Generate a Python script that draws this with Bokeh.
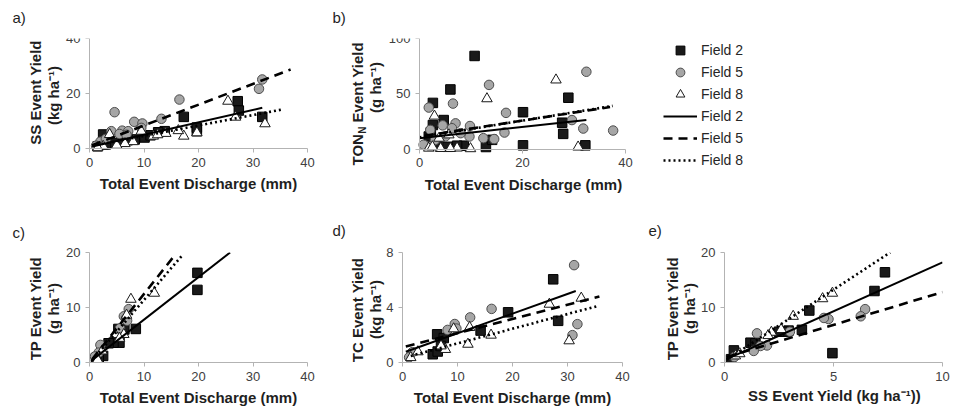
import math
from bokeh.plotting import figure
from bokeh.layouts import row, column
from bokeh.models import Range1d, FixedTicker, Label, Legend, LegendItem
from bokeh.embed import file_html
from bokeh.resources import INLINE

# ---------------- data ----------------
FIELDS = ["Field 2", "Field 5", "Field 8"]

# a) SS event yield (kg/ha) vs total event discharge (mm)
A_X_TICKS = [0, 10, 20, 30, 40]
A_Y_TICKS = [0, 20, 40]
A_F2 = [(2.5, 5.1), (17.3, 11.5), (27.2, 17.2), (27.4, 13.8), (31.7, 11.5), (19.7, 6.3),
        (19.7, 7.6), (13.8, 6.3), (12.6, 5.9), (10.1, 4.0), (8.3, 3.3), (6.0, 2.5),
        (4.5, 2.0), (3.0, 1.5), (1.5, 0.8), (7.0, 3.0), (11.2, 4.8)]
A_F5 = [(4.6, 13.2), (16.5, 17.8), (31.7, 25.1), (31.1, 21.7), (13.2, 10.8), (8.2, 9.7),
        (9.7, 9.1), (4.0, 6.3), (6.0, 6.5), (7.1, 6.3), (5.5, 5.3), (2.0, 2.5),
        (3.0, 3.5), (1.2, 1.0), (6.8, 5.0), (9.5, 7.5)]
A_F8 = [(25.4, 17.2), (32.2, 9.0), (17.3, 4.5), (19.7, 5.7), (26.8, 11.4), (16.3, 6.5),
        (9.5, 6.3), (3.7, 5.1), (11.7, 4.5), (8.0, 2.5), (6.5, 1.8), (5.0, 1.2),
        (2.5, 0.8), (1.5, 0.3), (14.0, 5.5), (12.5, 5.0)]
A_FIT_F2 = [(0.5, 0.7), (31.7, 14.8)]
A_FIT_F5 = [(0.5, 1.2), (36.9, 28.7)]
A_FIT_F8 = [(0.5, 1.0), (35.4, 14.2)]

# b) TON_N event yield (g/ha) vs total event discharge (mm)
B_X_TICKS = [0, 20, 40]
B_Y_TICKS = [0, 50, 100]
B_F2 = [(10.7, 84.2), (6.0, 53.9), (2.6, 41.7), (20.1, 33.3), (28.9, 46.4), (27.7, 23.8),
        (27.9, 13.7), (32.2, 3.3), (20.1, 3.3), (12.9, 1.8), (14.1, 8.3), (4.7, 26.2),
        (2.6, 21.7), (8.6, 3.0), (7.3, 3.0), (1.8, 11.3), (3.5, 5.0), (5.5, 2.0), (2.2, 15.0)]
B_F5 = [(32.4, 69.9), (13.5, 58.0), (6.5, 41.1), (1.8, 37.5), (16.8, 32.7), (29.6, 26.2),
        (31.8, 18.5), (37.6, 16.7), (16.5, 14.9), (12.4, 9.8), (9.8, 20.8), (7.0, 23.2),
        (6.3, 18.8), (4.5, 21.4), (2.1, 17.3), (9.7, 11.3), (0.8, 3.9), (8.0, 14.3),
        (5.0, 11.3), (3.0, 8.0), (14.5, 9.0)]
B_F8 = [(26.5, 62.5), (13.1, 45.5), (2.9, 29.8), (30.8, 1.8), (9.9, 0.3), (7.3, 0.9),
        (6.0, 0.5), (4.1, 0.5), (1.8, 0.8), (3.8, 9.8), (5.7, 12.8), (2.5, 2.0)]
B_FIT_F2 = [(0.0, 9.8), (32.4, 26.2)]
B_FIT_F5 = [(1.0, 12.0), (37.0, 38.0)]
B_FIT_F8 = [(0.0, 10.5), (37.5, 39.0)]

# c) TP event yield (g/ha) vs total event discharge (mm)
C_X_TICKS = [0, 10, 20, 30, 40]
C_Y_TICKS = [0, 10, 20]
C_F2 = [(19.8, 16.3), (19.8, 13.2), (8.5, 6.1), (6.4, 6.0), (5.3, 6.1), (5.5, 3.6),
        (4.4, 3.6), (3.5, 3.5), (2.5, 1.2), (1.7, 0.5), (1.2, 0.8)]
C_F5 = [(7.2, 9.7), (6.3, 8.4), (6.7, 8.0), (6.9, 7.6), (2.0, 3.2), (1.7, 1.8),
        (1.0, 1.1), (5.6, 6.2)]
C_F8 = [(7.6, 11.5), (11.9, 12.6), (6.3, 5.1), (4.7, 5.1), (2.3, 2.1), (6.8, 8.6),
        (1.5, 0.5), (5.5, 4.4)]
C_FIT_F2 = [(0.3, 0.3), (25.8, 20.0)]
C_FIT_F5 = [(0.5, 0.6), (15.4, 19.2)]
C_FIT_F8 = [(0.5, 0.4), (17.2, 19.7)]

# d) TC event yield (kg/ha) vs total event discharge (mm)
D_X_TICKS = [0, 10, 20, 30, 40]
D_Y_TICKS = [0, 4, 8]
D_F2 = [(27.4, 6.05), (28.3, 3.03), (19.2, 3.65), (14.2, 2.32), (6.3, 2.05), (7.5, 1.78),
        (5.5, 0.6), (6.4, 0.8), (7.0, 1.2)]
D_F5 = [(31.2, 7.08), (31.8, 2.79), (30.9, 1.99), (16.2, 3.9), (12.3, 3.28), (9.5, 2.8),
        (9.8, 2.47), (8.2, 2.37), (1.8, 0.75), (1.2, 0.38)]
D_F8 = [(32.5, 4.68), (26.7, 4.24), (30.3, 1.58), (16.1, 1.99), (11.9, 1.33), (12.2, 2.55),
        (7.8, 0.95), (7.0, 1.21), (9.3, 2.45), (1.5, 0.36), (2.8, 0.78)]
D_FIT_F2 = [(0.6, 0.78), (31.5, 5.2)]
D_FIT_F5 = [(0.6, 1.16), (35.8, 4.8)]
D_FIT_F8 = [(1.5, 0.48), (35.6, 4.12)]

# e) TP event yield (g/ha) vs SS event yield (kg/ha)
E_X_TICKS = [0, 5, 10]
E_Y_TICKS = [0, 10, 20]
E_F2 = [(7.36, 16.4), (6.88, 13.0), (3.89, 9.45), (3.55, 5.94), (2.94, 5.8), (2.75, 5.6),
        (2.5, 5.6), (4.95, 1.70), (1.19, 3.6), (1.42, 3.5), (0.43, 2.2), (0.3, 0.6)]
E_F5 = [(6.45, 9.7), (6.25, 8.4), (4.77, 7.9), (4.56, 8.1), (1.49, 5.3), (1.95, 3.1),
        (1.65, 3.0), (1.34, 2.1), (0.45, 1.0), (3.0, 5.6)]
E_F8 = [(4.95, 12.6), (4.5, 11.6), (3.15, 8.4), (2.15, 5.5), (2.0, 4.9), (0.5, 1.2),
        (2.6, 6.0), (0.7, 1.6)]
E_FIT_F2 = [(0.1, 0.6), (10.0, 18.2)]
E_FIT_F5 = [(0.1, 1.0), (10.0, 12.8)]
E_FIT_F8 = [(0.1, 0.5), (7.6, 20.0)]

# ---------------- styles ----------------
FONT = "Liberation Sans"
AXIS_C = "#b3b3b3"
TICK_C = "#404040"
TITLE_C = "#1f1f1f"

MARKERS = [
    dict(marker="square", size=9.5, fill_color="#1a1a1a", line_color="#000000", line_width=1),
    dict(marker="circle", size=9.5, fill_color="#a6a6a6", line_color="#4d4d4d", line_width=1),
    dict(marker="triangle", size=10.5, fill_color="#ffffff", line_color="#1a1a1a", line_width=1),
]
LINES = [
    dict(line_color="#000000", line_width=2),
    dict(line_color="#000000", line_width=2.6, line_dash="9 6"),
    dict(line_color="#000000", line_width=2.6, line_dash="2 3"),
]

# layout geometry (page pixels):
# fig left, fig top, width, height, min borders l/r/t/b,
# page x of x-range start / end, page y of y-range start / end
A_GEOM = (0, 0, 320, 198, 62, 2, 38, 26, 89, 307, 148, 38)
B_GEOM = (320, 0, 620, 198, 66, 80, 38, 26, 419, 625, 148.5, 38)
C_GEOM = (0, 198, 320, 213, 89, 13, 54, 49, 89, 307, 362, 252)
D_GEOM = (320, 198, 320, 213, 82, 18, 54, 49, 402, 622, 362, 252)
E_GEOM = (640, 198, 310, 213, 84, 8, 54, 49, 724, 942, 362, 252)


def frame_ranges(geom, xr, yr):
    left, top, w, h, mbl, mbr, mbt, mbb, px0, px1, py0, py1 = geom
    fl, fr = left + mbl, left + w - mbr
    ft, fb = top + mbt, top + h - mbb
    kx = (xr[1] - xr[0]) / (px1 - px0)
    ky = (yr[1] - yr[0]) / (py0 - py1)
    return ((xr[0] + (fl - px0) * kx, xr[0] + (fr - px0) * kx),
            (yr[0] + (py0 - fb) * ky, yr[0] + (py0 - ft) * ky))


def to_data(geom, xr, yr, px, py):
    left, top, w, h, mbl, mbr, mbt, mbb, px0, px1, py0, py1 = geom
    x = xr[0] + (px - px0) / (px1 - px0) * (xr[1] - xr[0])
    y = yr[0] + (py0 - py) / (py0 - py1) * (yr[1] - yr[0])
    return x, y


def make_panel(geom, xr, yr, xt, yt, series, fits, fixed=False):
    left, top, w, h, mbl, mbr, mbt, mbb = geom[:8]
    fxr, fyr = frame_ranges(geom, xr, yr)
    p = figure(width=w, height=h, x_range=Range1d(*fxr), y_range=Range1d(*fyr),
               output_backend="svg", toolbar_location=None,
               min_border_left=mbl, min_border_right=mbr,
               min_border_top=mbt, min_border_bottom=mbb)
    p.outline_line_color = None
    p.grid.visible = False
    p.background_fill_color = "white"
    p.border_fill_color = "white"
    for ax, ticks, bnd in ((p.xaxis[0], xt, xr), (p.yaxis[0], yt, yr)):
        ax.ticker = FixedTicker(ticks=ticks)
        ax.bounds = bnd
        ax.axis_line_color = AXIS_C
        ax.axis_line_width = 1
        ax.major_tick_line_color = AXIS_C
        ax.major_tick_out = 4
        ax.major_tick_in = 0
        ax.minor_tick_line_color = None
        ax.major_label_text_font = FONT
        ax.major_label_text_font_size = "13px"
        ax.major_label_text_color = TICK_C
        ax.major_label_standoff = 5
    if fixed:
        p.xaxis[0].fixed_location = yr[0]
        p.yaxis[0].fixed_location = xr[0]
    rs = []
    for pts, st in zip(series, MARKERS):
        rs.append(p.scatter([q[0] for q in pts], [q[1] for q in pts], **st))
    ls = []
    for fit, st in zip(fits, LINES):
        ls.append(p.line([q[0] for q in fit], [q[1] for q in fit], **st))
    return p, rs, ls


def add_text(p, geom, xr, yr, px, py, text, side, size="15px", bold=True, rotate=False,
             align="center", color=TITLE_C):
    x, y = to_data(geom, xr, yr, px, py)
    p.add_layout(Label(x=x, y=y, text=text, text_font=FONT, text_font_size=size,
                       text_font_style="bold" if bold else "normal", text_color=color,
                       angle=math.pi / 2 if rotate else 0, text_align=align,
                       text_baseline="middle"), side)


# ---------------- panels ----------------
A_XR, A_YR = (0, 40), (0, 40)
B_XR, B_YR = (0, 40), (0, 100)
C_XR, C_YR = (0, 40), (0, 20)
D_XR, D_YR = (0, 40), (0, 8)
E_XR, E_YR = (0, 10), (0, 20)

pa, _, _ = make_panel(A_GEOM, A_XR, A_YR, A_X_TICKS, A_Y_TICKS, [A_F2, A_F5, A_F8],
                      [A_FIT_F2, A_FIT_F5, A_FIT_F8], fixed=True)
pb, b_rs, b_ls = make_panel(B_GEOM, B_XR, B_YR, B_X_TICKS, B_Y_TICKS, [B_F2, B_F5, B_F8],
                            [B_FIT_F2, B_FIT_F5, B_FIT_F8], fixed=True)
pc, _, _ = make_panel(C_GEOM, C_XR, C_YR, C_X_TICKS, C_Y_TICKS, [C_F2, C_F5, C_F8],
                      [C_FIT_F2, C_FIT_F5, C_FIT_F8])
pd, _, _ = make_panel(D_GEOM, D_XR, D_YR, D_X_TICKS, D_Y_TICKS, [D_F2, D_F5, D_F8],
                      [D_FIT_F2, D_FIT_F5, D_FIT_F8])
pe, _, _ = make_panel(E_GEOM, E_XR, E_YR, E_X_TICKS, E_Y_TICKS, [E_F2, E_F5, E_F8],
                      [E_FIT_F2, E_FIT_F5, E_FIT_F8])

X_TITLE = "Total Event Discharge (mm)"
SUP = "\u207b\u00b9"

# a
add_text(pa, A_GEOM, A_XR, A_YR, 12, 16.5, "a)", "above", bold=False, align="left")
add_text(pa, A_GEOM, A_XR, A_YR, 35, 92, "SS Event Yield", "left", rotate=True)
add_text(pa, A_GEOM, A_XR, A_YR, 53, 95, "(kg ha" + SUP + ")", "left", rotate=True)
add_text(pa, A_GEOM, A_XR, A_YR, 198, 183, X_TITLE, "above")
# b
add_text(pb, B_GEOM, B_XR, B_YR, 332, 16.5, "b)", "above", bold=False, align="left")
add_text(pb, B_GEOM, B_XR, B_YR, 356.5, 165, "TON", "right", rotate=True, align="left")
add_text(pb, B_GEOM, B_XR, B_YR, 361.5, 165 - 31.7, "N", "right", size="10px", rotate=True, align="left")
add_text(pb, B_GEOM, B_XR, B_YR, 356.5, 165 - 31.7 - 7.2 - 4.2, "Event Yield", "right", rotate=True, align="left")
add_text(pb, B_GEOM, B_XR, B_YR, 375, 87, "(g ha" + SUP + ")", "right", rotate=True)
add_text(pb, B_GEOM, B_XR, B_YR, 523, 184, X_TITLE, "above")
# c
add_text(pc, C_GEOM, C_XR, C_YR, 12, 232, "c)", "above", bold=False, align="left")
add_text(pc, C_GEOM, C_XR, C_YR, 35, 308, "TP Event Yield", "left", rotate=True)
add_text(pc, C_GEOM, C_XR, C_YR, 53, 308, "(g ha" + SUP + ")", "left", rotate=True)
add_text(pc, C_GEOM, C_XR, C_YR, 198, 397, X_TITLE, "below")
# d
add_text(pd, D_GEOM, D_XR, D_YR, 332, 230, "d)", "above", bold=False, align="left")
add_text(pd, D_GEOM, D_XR, D_YR, 356.5, 309.5, "TC Event Yield", "left", rotate=True)
add_text(pd, D_GEOM, D_XR, D_YR, 375, 309, "(kg ha" + SUP + ")", "left", rotate=True)
add_text(pd, D_GEOM, D_XR, D_YR, 512, 397, X_TITLE, "below")
# e
add_text(pe, E_GEOM, E_XR, E_YR, 648, 230, "e)", "above", bold=False, align="left")
add_text(pe, E_GEOM, E_XR, E_YR, 671.5, 308, "TP Event Yield", "left", rotate=True)
add_text(pe, E_GEOM, E_XR, E_YR, 689, 308, "(g ha" + SUP + ")", "left", rotate=True)
add_text(pe, E_GEOM, E_XR, E_YR, 834, 395, "SS Event Yield (kg ha" + SUP + "))", "below")

# ---------------- legend (inside panel b's widened frame) ----------------
B_FRAME_LEFT = B_GEOM[0] + B_GEOM[4]
B_FRAME_BOTTOM = B_GEOM[1] + B_GEOM[3] - B_GEOM[7]
LEG_LEFT, LEG_BOTTOM = 663, 171
items = [LegendItem(label=FIELDS[i], renderers=[b_rs[i]]) for i in range(3)] + \
        [LegendItem(label=FIELDS[i], renderers=[b_ls[i]]) for i in range(3)]
legend = Legend(items=items, location=(LEG_LEFT - B_FRAME_LEFT, B_FRAME_BOTTOM - LEG_BOTTOM),
                orientation="vertical",
                glyph_width=34, glyph_height=22, label_height=22, spacing=0,
                padding=0, margin=0, label_standoff=4,
                label_text_font=FONT, label_text_font_size="14px",
                label_text_color="#262626", border_line_color=None,
                background_fill_alpha=0)
pb.add_layout(legend)

layout = column(row(pa, pb), row(pc, pd, pe))
open("out.html", "w").write(file_html(layout, INLINE))
